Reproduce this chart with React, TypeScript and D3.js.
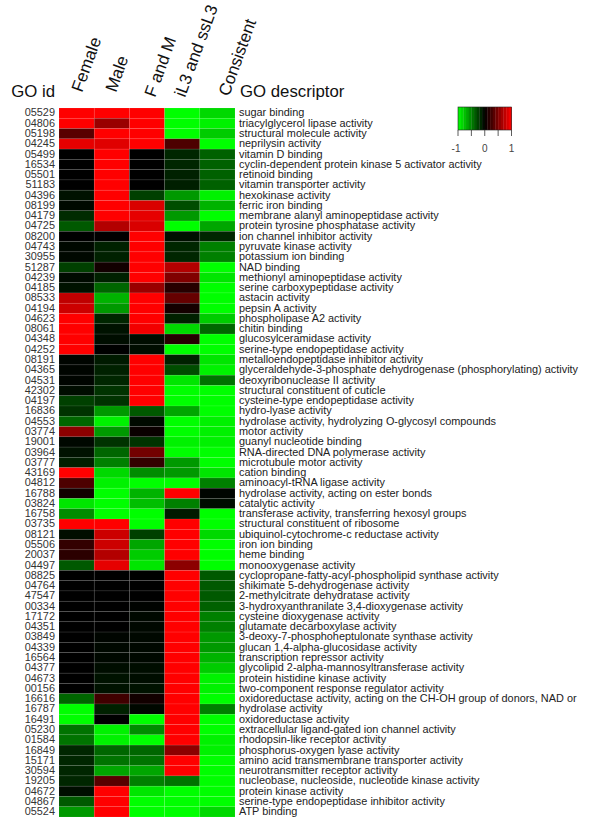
import React from 'react';
import * as d3 from 'd3';

const columns = ['Female', 'Male', 'F and M', 'iL3 and ssL3', 'Consistent'];

const goIds = [
  '05529', '04806', '05198', '04245', '05499', '16534', '05501', '51183', '04396', '08199',
  '04179', '04725', '08200', '04743', '30955', '51287', '04239', '04185', '08533', '04194',
  '04623', '08061', '04348', '04252', '08191', '04365', '04531', '42302', '04197', '16836',
  '04553', '03774', '19001', '03964', '03777', '43169', '04812', '16788', '03824', '16758',
  '03735', '08121', '05506', '20037', '04497', '08825', '04764', '47547', '00334', '17172',
  '04351', '03849', '04339', '16564', '04377', '04673', '00156', '16616', '16787', '16491',
  '05230', '01584', '16849', '15171', '30594', '19205', '04672', '04867', '05524',
];

const descriptors = [
  'sugar binding', 'triacylglycerol lipase activity', 'structural molecule activity', 'neprilysin activity',
  'vitamin D binding', 'cyclin-dependent protein kinase 5 activator activity', 'retinoid binding',
  'vitamin transporter activity', 'hexokinase activity', 'ferric iron binding',
  'membrane alanyl aminopeptidase activity', 'protein tyrosine phosphatase activity', 'ion channel inhibitor activity',
  'pyruvate kinase activity', 'potassium ion binding', 'NAD binding', 'methionyl aminopeptidase activity',
  'serine carboxypeptidase activity', 'astacin activity', 'pepsin A activity', 'phospholipase A2 activity',
  'chitin binding', 'glucosylceramidase activity', 'serine-type endopeptidase activity',
  'metalloendopeptidase inhibitor activity', 'glyceraldehyde-3-phosphate dehydrogenase (phosphorylating) activity',
  'deoxyribonuclease II activity', 'structural constituent of cuticle', 'cysteine-type endopeptidase activity',
  'hydro-lyase activity', 'hydrolase activity, hydrolyzing O-glycosyl compounds', 'motor activity',
  'guanyl nucleotide binding', 'RNA-directed DNA polymerase activity', 'microtubule motor activity', 'cation binding',
  'aminoacyl-tRNA ligase activity', 'hydrolase activity, acting on ester bonds', 'catalytic activity',
  'transferase activity, transferring hexosyl groups', 'structural constituent of ribosome',
  'ubiquinol-cytochrome-c reductase activity', 'iron ion binding', 'heme binding', 'monooxygenase activity',
  'cyclopropane-fatty-acyl-phospholipid synthase activity', 'shikimate 5-dehydrogenase activity',
  '2-methylcitrate dehydratase activity', '3-hydroxyanthranilate 3,4-dioxygenase activity',
  'cysteine dioxygenase activity', 'glutamate decarboxylase activity', '3-deoxy-7-phosphoheptulonate synthase activity',
  'glucan 1,4-alpha-glucosidase activity', 'transcription repressor activity',
  'glycolipid 2-alpha-mannosyltransferase activity', 'protein histidine kinase activity',
  'two-component response regulator activity', 'oxidoreductase activity, acting on the CH-OH group of donors, NAD or',
  'hydrolase activity', 'oxidoreductase activity', 'extracellular ligand-gated ion channel activity',
  'rhodopsin-like receptor activity', 'phosphorus-oxygen lyase activity', 'amino acid transmembrane transporter activity',
  'neurotransmitter receptor activity', 'nucleobase, nucleoside, nucleotide kinase activity', 'protein kinase activity',
  'serine-type endopeptidase inhibitor activity', 'ATP binding',
];

// one array per column, same order as goIds
const female = [
  1, 1, 0.35, 0.9, 0, 0, 0, 0, -0.07, -0.03,
  -0.17, -0.35, 0, -0.03, -0.03, -0.25, -0.04, -0.07, 0.75, 0.8,
  1, 1, 1, 1, -0.02, -0.02, -0.02, -0.05, -0.25, -0.2,
  -0.4, 0.55, -0.03, -0.07, -0.12, 1, 0.3, 0.07, -0.9, -0.55,
  1, -0.05, 0.2, 0.17, -0.35, 0, 0, 0, 0, 0,
  0, 0, 0, 0, 0, 0, 0, -0.4, -1, -1,
  -0.45, -0.45, -0.15, -0.15, -0.15, -0.15, -0.05, -0.35, -0.6,
];
const male = [
  1, 0.6, 1, 0.88, 1, 1, 1, 1, 1, 1,
  1, 0.7, 0, -0.13, -0.13, 0.07, -0.13, -0.4, -0.7, -0.6,
  -0.15, -0.07, -0.05, 0, -0.1, -0.13, -0.15, -0.2, -0.2, -0.6,
  -0.95, -0.6, -0.2, -0.4, -0.5, -0.85, -0.95, -1, -1, -1,
  1, 0.8, 0.8, 0.7, 0.9, 0, 0, 0, 0, 0,
  0, -0.02, -0.03, -0.03, -0.05, -0.07, -0.07, 0.25, -0.13, 0,
  -0.95, -0.95, -0.4, -0.45, -0.65, 0.35, 1, 1, 1,
];
const femaleAndMale = [
  1, 1, 1, 1, 0, 0, 0, 0, -0.25, 0.85,
  0.9, 0.85, 1, 1, 1, 1, 1, 0.6, 1, 1,
  1, 0.95, -0.05, -0.05, 1, 1, 1, 1, 1, -0.35,
  -0.04, 0.04, -0.2, 0.45, 0.2, -0.55, -1, -0.7, -0.75, -1,
  -1, -0.25, -0.65, -0.8, -0.9, 0, 0, 0, -0.01, -0.03,
  -0.03, -0.03, -0.03, -0.03, -0.05, -0.05, -0.07, 0.07, -0.03, -1,
  -0.55, -1, -0.4, -0.45, -0.65, -0.5, -0.9, -1, -1,
];
const larval = [
  -1, -1, -1, 0.3, -0.15, -0.15, -0.13, -0.12, -0.6, -0.3,
  -0.6, -1, -0.06, -0.15, -0.15, 0.7, 0.5, 0.15, 0.4, 0.08,
  -0.13, -0.85, 0.15, -1, -0.13, -0.3, -0.9, -1, -1, -0.65,
  -1, -1, -0.95, -1, -0.6, -0.6, -1, 1, -0.5, -0.1,
  1, 1, 1, 1, 0.55, 1, 1, 1, 1, 1,
  1, 1, 1, 1, 1, 1, 1, 1, 1, 1,
  1, 1, 0.55, 1, 1, -0.45, -1, -1, -1,
];
const consistent = [
  -0.85, -0.95, -0.8, -1, -0.38, -0.38, -0.38, -0.38, -0.95, -0.7,
  -1, -0.65, -0.15, -0.5, -0.5, -1, -0.9, -1, -1, -1,
  -0.8, -0.4, -1, -1, -0.9, -0.95, -0.45, -1, -1, -1,
  -0.95, -0.95, -0.95, -1, -1, -0.9, -0.5, -0.02, -0.05, -1,
  -1, -0.85, -1, -1, -1, -0.35, -0.35, -0.35, -0.38, -0.5,
  -0.5, -0.6, -0.6, -0.7, -0.8, -0.95, -0.95, -1, -0.5, -1,
  -1, -0.95, -0.95, -1, -1, -1, -1, -1, -0.85,
];
const series = [female, male, femaleAndMale, larval, consistent];

const legendTicks = [-1, -0.5, 0, 0.5, 1];
const legendLabels = [-1, 0, 1];
const legendSteps = d3.range(-1, 1, 0.1);

const color = d3.scaleLinear<string>().domain([-1, 0, 1]).range(['#00ff00', '#000000', '#ff0000']);

const font = '"Liberation Sans", Arial, sans-serif';

export default function App() {
  const x = d3.scaleBand().domain(columns).range([59, 235]);
  const y = d3.scaleBand().domain(goIds).range([108, 817]);
  const legendX = d3.scaleLinear().domain([-1, 1]).range([458, 511.5]);

  const headPos = [
    [82, 93],
    [116, 93],
    [155, 98],
    [185, 98],
    [229, 97],
  ];

  return (
    <svg width={600} height={830} style={{ position: 'absolute', left: 0, top: 0, background: '#fff' }} fontFamily={font}>
      <text x={55} y={97} fontSize={16.8} textAnchor="end" fill="#111">GO id</text>
      <text x={240} y={97} fontSize={16.8} fill="#111">GO descriptor</text>
      {columns.map((c, i) => (
        <text key={c} transform={`translate(${headPos[i][0]},${headPos[i][1]}) rotate(-70)`} fontSize={17} fill="#111">{c}</text>
      ))}

      {series.map((values, i) =>
        values.map((v, j) => (
          <rect
            key={`${i}-${j}`}
            x={x(columns[i])}
            y={y(goIds[j])}
            width={x.bandwidth()}
            height={y.bandwidth()}
            fill={color(v)}
            stroke="#fff"
            strokeOpacity={0.13}
            strokeWidth={0.6}
          />
        ))
      )}

      {goIds.map((id) => (
        <text key={id} x={55} y={y(id)! + y.bandwidth() / 2 + 3.3} fontSize={10.9} textAnchor="end" fill="#333">{id}</text>
      ))}
      {descriptors.map((d, i) => (
        <text key={i} x={239} y={y(goIds[i])! + y.bandwidth() / 2 + 3.3} fontSize={10.9} fill="#222">{d}</text>
      ))}

      {legendSteps.map((s) => (
        <rect key={s} x={legendX(s)} y={107} width={legendX(s + 0.1) - legendX(s) + 0.3} height={23} fill={color(s + 0.05)} />
      ))}
      <rect x={458} y={107} width={53.5} height={23} fill="none" stroke="#222" strokeWidth={0.6} />
      {legendTicks.map((t) => (
        <line key={t} x1={legendX(t)} x2={legendX(t)} y1={130} y2={136} stroke="#333" strokeWidth={0.8} />
      ))}
      {legendLabels.map((t) => (
        <text key={t} x={legendX(t) - (t < 0 ? 2 : 0)} y={152} fontSize={10} textAnchor="middle" fill="#444">{t}</text>
      ))}
    </svg>
  );
}
